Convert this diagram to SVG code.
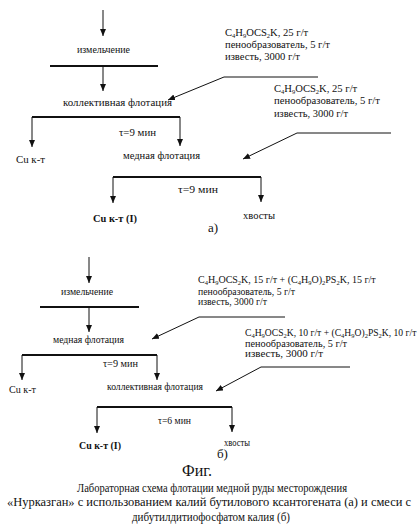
<svg xmlns="http://www.w3.org/2000/svg" width="417" height="524" viewBox="0 0 417 524" font-family="'Liberation Serif', 'DejaVu Serif', serif">
<style>
text{font-family:'Liberation Serif','Times New Roman','DejaVu Serif',serif;fill:#111}
.s{font-size:10px}
.r{font-size:10px}
.fa{font-size:10.6px}
.fb{font-size:9.6px}
.sub{font-size:6.5px}
.b{font-size:10.5px;font-weight:bold}
.c{font-size:13px}
.c2{font-size:12px}
.f{font-size:16px}
.th{stroke:#111;stroke-width:2.2;fill:none}
.ar{stroke:#111;stroke-width:1;fill:none;marker-end:url(#ah)}
</style>
<defs>
<marker id="ah" markerWidth="8" markerHeight="8" refX="7" refY="3" orient="auto" markerUnits="userSpaceOnUse">
<path d="M0,0 L7,3 L0,6 z" fill="#111"/>
</marker>
</defs>
<g id="connectors">
<line class="ar" x1="103" y1="10" x2="103" y2="36"/>
<line class="th" x1="50" y1="66" x2="158" y2="66"/>
<line class="ar" x1="103" y1="66" x2="103" y2="91"/>
<polyline class="ar" points="318,77 224,77 168,100"/>
<line class="th" x1="32" y1="117" x2="180" y2="117"/>
<line class="ar" x1="32" y1="117" x2="32" y2="147"/>
<line class="ar" x1="180" y1="117" x2="180" y2="146"/>
<polyline class="ar" points="391,133 297,133 243,159"/>
<line class="th" x1="113" y1="177" x2="261" y2="177"/>
<line class="ar" x1="113" y1="177" x2="113" y2="203"/>
<line class="ar" x1="261" y1="177" x2="261" y2="202"/>

<line class="ar" x1="89" y1="257" x2="89" y2="283"/>
<line class="th" x1="40" y1="307" x2="139" y2="307"/>
<line class="ar" x1="89" y1="307" x2="89" y2="332"/>
<polyline class="ar" points="285,317 199,317 152,339"/>
<line class="th" x1="22" y1="355" x2="157" y2="355"/>
<line class="ar" x1="22" y1="355" x2="22" y2="380"/>
<line class="ar" x1="157" y1="355" x2="157" y2="380"/>
<polyline class="ar" points="350,367 261,367 216,391"/>
<line class="th" x1="97" y1="407" x2="232" y2="407"/>
<line class="ar" x1="97" y1="407" x2="97" y2="433"/>
<line class="ar" x1="232" y1="407" x2="232" y2="432"/>
</g>

<g id="a-grinding"><text class="s" x="77" y="53" textLength="53" lengthAdjust="spacingAndGlyphs">измельчение</text></g>
<g id="a-bulk"><text class="s" x="63" y="106" textLength="109" lengthAdjust="spacingAndGlyphs">коллективная флотация</text></g>
<g id="a-reagent1">
<text class="fa" x="225" y="36">C<tspan class="sub" dy="1.5">4</tspan><tspan dy="-1.5">H</tspan><tspan class="sub" dy="1.5">9</tspan><tspan dy="-1.5">OCS</tspan><tspan class="sub" dy="1.5">2</tspan><tspan dy="-1.5">K, 25 г/т</tspan></text>
<text class="r" x="225" y="48" textLength="105" lengthAdjust="spacingAndGlyphs">пенообразователь, 5 г/т</text>
<text class="r" x="225" y="60" textLength="75" lengthAdjust="spacingAndGlyphs">известь, 3000 г/т</text>
</g>
<g id="a-tau1"><text class="s" x="119" y="136" textLength="37" lengthAdjust="spacingAndGlyphs">τ=9 мин</text></g>
<g id="a-cu1"><text class="s" x="16" y="163" textLength="29" lengthAdjust="spacingAndGlyphs">Cu к-т</text></g>
<g id="a-copper"><text class="s" x="123" y="159" textLength="77" lengthAdjust="spacingAndGlyphs">медная флотация</text></g>
<g id="a-reagent2">
<text class="fa" x="274" y="92">C<tspan class="sub" dy="1.5">4</tspan><tspan dy="-1.5">H</tspan><tspan class="sub" dy="1.5">9</tspan><tspan dy="-1.5">OCS</tspan><tspan class="sub" dy="1.5">2</tspan><tspan dy="-1.5">K, 25 г/т</tspan></text>
<text class="r" x="274" y="104" textLength="106" lengthAdjust="spacingAndGlyphs">пенообразователь, 5 г/т</text>
<text class="r" x="274" y="117" textLength="74" lengthAdjust="spacingAndGlyphs">известь, 3000 г/т</text>
</g>
<g id="a-tau2"><text class="s" x="178" y="193" textLength="40" lengthAdjust="spacingAndGlyphs">τ=9 мин</text></g>
<g id="a-cuI"><text class="b" x="93" y="222" textLength="44" lengthAdjust="spacingAndGlyphs">Cu к-т (I)</text></g>
<g id="a-tails"><text class="s" x="243" y="219" textLength="32" lengthAdjust="spacingAndGlyphs">хвосты</text></g>
<g id="a-label"><text class="c" x="208" y="232">а)</text></g>

<g id="b-grinding"><text class="s" x="61" y="295" textLength="52" lengthAdjust="spacingAndGlyphs">измельчение</text></g>
<g id="b-copper"><text class="s" x="53" y="343" textLength="71" lengthAdjust="spacingAndGlyphs">медная флотация</text></g>
<g id="b-reagent1">
<text class="r" x="198" y="283">C<tspan class="sub" dy="1.5">4</tspan><tspan dy="-1.5">H</tspan><tspan class="sub" dy="1.5">9</tspan><tspan dy="-1.5">OCS</tspan><tspan class="sub" dy="1.5">2</tspan><tspan dy="-1.5">K, 15 г/т + (C</tspan><tspan class="sub" dy="1.5">4</tspan><tspan dy="-1.5">H</tspan><tspan class="sub" dy="1.5">9</tspan><tspan dy="-1.5">O)</tspan><tspan class="sub" dy="1.5">2</tspan><tspan dy="-1.5">PS</tspan><tspan class="sub" dy="1.5">2</tspan><tspan dy="-1.5">K, 15 г/т</tspan></text>
<text class="r" x="198" y="295" textLength="97" lengthAdjust="spacingAndGlyphs">пенообразователь, 5 г/т</text>
<text class="r" x="198" y="305" textLength="69" lengthAdjust="spacingAndGlyphs">известь, 3000 г/т</text>
</g>
<g id="b-tau1"><text class="s" x="103" y="367" textLength="35" lengthAdjust="spacingAndGlyphs">τ=9 мин</text></g>
<g id="b-cu1"><text class="s" x="9" y="393" textLength="27" lengthAdjust="spacingAndGlyphs">Cu к-т</text></g>
<g id="b-bulk"><text class="s" x="107" y="390" textLength="96" lengthAdjust="spacingAndGlyphs">коллективная флотация</text></g>
<g id="b-reagent2">
<text class="fb" x="245" y="336">C<tspan class="sub" dy="1.5">4</tspan><tspan dy="-1.5">H</tspan><tspan class="sub" dy="1.5">9</tspan><tspan dy="-1.5">OCS</tspan><tspan class="sub" dy="1.5">2</tspan><tspan dy="-1.5">K, 10 г/т + (C</tspan><tspan class="sub" dy="1.5">4</tspan><tspan dy="-1.5">H</tspan><tspan class="sub" dy="1.5">9</tspan><tspan dy="-1.5">O)</tspan><tspan class="sub" dy="1.5">2</tspan><tspan dy="-1.5">PS</tspan><tspan class="sub" dy="1.5">2</tspan><tspan dy="-1.5">K, 10 г/т</tspan></text>
<text class="r" x="245" y="347" textLength="102" lengthAdjust="spacingAndGlyphs">пенообразователь, 5 г/т</text>
<text class="r" x="245" y="357" textLength="78" lengthAdjust="spacingAndGlyphs">известь, 3000 г/т</text>
</g>
<g id="b-tau2"><text class="s" x="158" y="424" textLength="33" lengthAdjust="spacingAndGlyphs">τ=6 мин</text></g>
<g id="b-cuI"><text class="b" x="79" y="449" textLength="42" lengthAdjust="spacingAndGlyphs">Cu к-т (I)</text></g>
<g id="b-tails"><text class="s" x="224" y="446" textLength="26" lengthAdjust="spacingAndGlyphs">хвосты</text></g>
<g id="b-label"><text class="c" x="217" y="458">б)</text></g>

<g id="caption">
<text class="f" x="197" y="476" text-anchor="middle">Фиг.</text>
<text class="c" x="77" y="492" textLength="270" lengthAdjust="spacingAndGlyphs">Лабораторная схема флотации медной руды месторождения</text>
<text class="c2" x="7" y="506" textLength="404" lengthAdjust="spacingAndGlyphs">«Нурказган» с использованием калий бутилового ксантогената (а) и смеси с</text>
<text class="c2" x="132" y="521" textLength="158" lengthAdjust="spacingAndGlyphs">дибутилдитиофосфатом калия (б)</text>
</g>
</svg>
